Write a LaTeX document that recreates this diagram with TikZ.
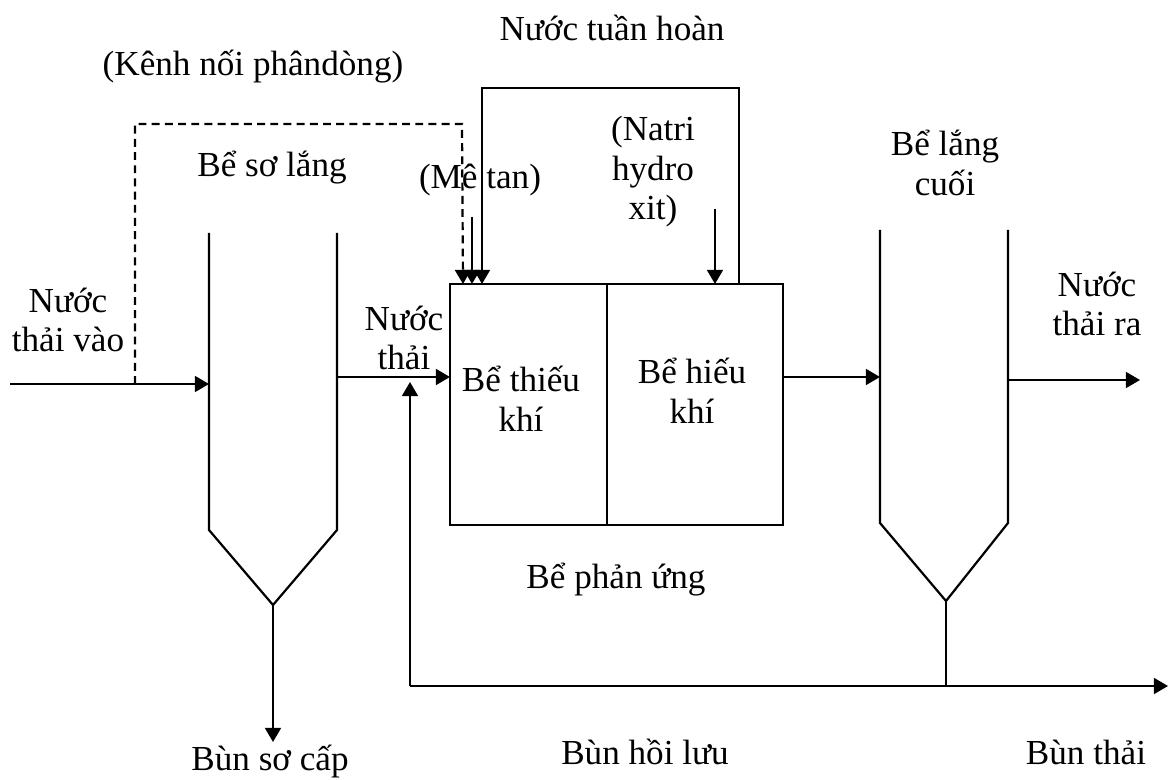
\documentclass[tikz,border=0pt]{standalone}
\usepackage{fontspec}
\setmainfont{Liberation Serif}
\usetikzlibrary{arrows.meta}

\tikzset{
  flow/.style={-{Triangle[length=8pt,width=9pt]}},
  feed/.style={dashed,dash pattern=on 4.5pt off 3pt},
  lbl/.style={align=center,inner sep=0pt,font=\fontsize{20}{22.5}\selectfont},
}

\begin{document}
\begin{tikzpicture}[x=0.02cm,y=-0.02cm,line width=1.25pt]
\useasboundingbox (0,0) rectangle (1170,780);

% settling tanks
\draw (209,233) -- (209,530) -- (273,605) coordinate (so) -- (337,530) -- (337,233);
\draw (880,230) -- (880,523) -- (946,601) coordinate (cuoi) -- (1008,523) -- (1008,230);

% reactor
\draw (450,284) rectangle (783,525);
\draw (607,284) -- (607,525);
\coordinate (in1) at (463,284);
\coordinate (in2) at (472,284);
\coordinate (in3) at (482,284);
\coordinate (in4) at (715,284);

% main line
\draw[flow] (10,384) -- (209,384);
\draw[flow] (337,377) -- (450,377);
\draw[flow] (783,377) -- (880,377);
\draw[flow] (1008,380) -- (1140,380);
\draw[feed,flow] (135,384) -- (135,124) -- (462,124) -- (in1);
\draw[flow] (472,217) -- (in2);
\draw[flow] (739,284) -- (739,88) -- (482,88) -- (in3);
\draw[flow] (715,209) -- (in4);

% sludge
\draw[flow] (so) -- (273,742);
\draw (cuoi) -- (946,686) coordinate (nga);
\draw[flow] (410,686) -- (1168,686);
\draw[flow] (410,686) -- (410,382);

\node[lbl] (tuan) at (612,28) {Nước tuần hoàn};
\node[lbl] (kenh) at (253,67) {(Kênh nối phândòng)};
\node[lbl] (sol) at (272,168) {Bể sơ lắng};
\node[lbl] (metan) at (480,180) {(Mê tan)};
\node[lbl] (natri) at (653,172) {(Natri\\hydro\\xit)};
\node[lbl] (cuoil) at (945,163) {Bể lắng\\cuối};
\node[lbl] (vao) at (68,320) {Nước\\thải vào};
\node[lbl] (thai) at (404,338) {Nước\\thải};
\node[lbl] (ra) at (1097,304) {Nước\\thải ra};
\node[lbl] (thieu) at (521,399) {Bể thiếu\\khí};
\node[lbl] (hieu) at (692,391) {Bể hiếu\\khí};
\node[lbl] (pu) at (616,580) {Bể phản ứng};
\node[lbl] (bsc) at (270,762) {Bùn sơ cấp};
\node[lbl] (hl) at (645,752) {Bùn hồi lưu};
\node[lbl] (bt) at (1086,752) {Bùn thải};
\end{tikzpicture}
\end{document}
